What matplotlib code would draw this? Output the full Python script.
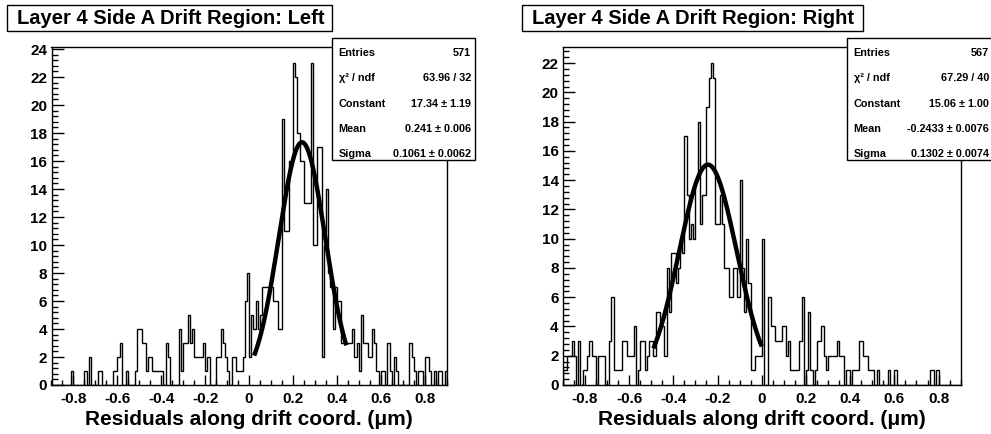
import numpy as np
import matplotlib
matplotlib.use("Agg")
import matplotlib.pyplot as plt
from matplotlib.patches import Rectangle
from matplotlib.ticker import MultipleLocator, AutoMinorLocator

plt.rcParams["font.family"] = ["Liberation Sans", "DejaVu Sans"]
plt.rcParams["font.weight"] = "bold"

# bins of 0.01 from -0.9 to 0.9
BIN_EDGES = np.linspace(-0.9, 0.9, 181)

left_counts = [
    0, 0, 0, 0, 0, 0, 0, 0, 0, 1,
    0, 0, 0, 0, 0, 1, 0, 2, 0, 0,
    0, 1, 1, 0, 0, 0, 0, 0, 1, 1,
    2, 3, 0, 0, 1, 0, 0, 0, 1, 4,
    4, 3, 3, 1, 2, 2, 1, 1, 1, 1,
    1, 0, 3, 2, 0, 0, 0, 0, 4, 1,
    3, 3, 5, 3, 4, 2, 2, 2, 2, 3,
    1, 2, 0, 0, 0, 2, 2, 4, 3, 2,
    1, 0, 2, 2, 1, 1, 1, 2, 6, 8,
    2, 5, 4, 6, 4, 5, 7, 7, 7, 7,
    7, 6, 6, 4, 4, 19, 11, 11, 16, 16,
    23, 22, 18, 16, 16, 13, 13, 13, 23, 10,
    10, 17, 17, 2, 10, 14, 8, 7, 4, 7,
    6, 6, 3, 3, 3, 3, 3, 4, 2, 3,
    1, 5, 3, 3, 2, 2, 4, 3, 1, 0,
    1, 1, 0, 3, 1, 0, 2, 1, 0, 0,
    0, 0, 0, 3, 2, 1, 0, 1, 1, 0,
    2, 2, 1, 0, 1, 0, 1, 1, 0, 1,
]

right_counts = [
    1, 1, 2, 2, 3, 2, 0, 3, 0, 1,
    1, 2, 3, 2, 2, 0, 2, 2, 2, 0,
    0, 3, 6, 1, 1, 1, 1, 3, 3, 2,
    2, 2, 4, 0, 1, 3, 3, 1, 2, 3,
    3, 2, 5, 5, 4, 4, 2, 8, 5, 9,
    9, 7, 8, 10, 9, 17, 13, 10, 11, 10,
    14, 18, 11, 13, 13, 19, 21, 22, 21, 11,
    11, 13, 11, 8, 8, 6, 6, 8, 8, 6,
    14, 8, 5, 10, 7, 1, 1, 2, 2, 2,
    10, 0, 0, 6, 4, 4, 3, 3, 3, 4,
    4, 2, 3, 1, 1, 1, 1, 3, 6, 0,
    1, 5, 1, 0, 1, 3, 3, 4, 2, 1,
    2, 2, 2, 2, 3, 2, 2, 0, 1, 1,
    0, 1, 1, 1, 3, 3, 2, 2, 1, 1,
    1, 0, 1, 0, 0, 0, 0, 1, 0, 0,
    1, 0, 0, 0, 0, 0, 0, 0, 0, 0,
    0, 0, 0, 0, 0, 0, 1, 1, 0, 1,
    0, 0, 0, 0, 0, 0, 0, 0, 0, 0,
]

# gaussian fit results (constant, mean, sigma) and fit range
left_fit = [17.34, 0.241, 0.1061]
left_fit_range = [0.023, 0.443]
right_fit = [15.06, -0.2433, 0.1302]
right_fit_range = [-0.49, 0.0]

stat_labels = ["Entries", "χ² / ndf", "Constant", "Mean", "Sigma"]
left_stats = ["571", "63.96 / 32", "17.34 ± 1.19", "0.241 ± 0.006", "0.1061 ± 0.0062"]
right_stats = ["567", "67.29 / 40", "15.06 ± 1.00", "-0.2433 ± 0.0076", "0.1302 ± 0.0074"]

titles = ["Layer 4 Side A Drift Region: Left", "Layer 4 Side A Drift Region: Right"]
xlabel = "Residuals along drift coord. (μm)"
x_ticks = [-0.8, -0.6, -0.4, -0.2, 0.0, 0.2, 0.4, 0.6, 0.8]
x_tick_labels = ["-0.8", "-0.6", "-0.4", "-0.2", "0", "0.2", "0.4", "0.6", "0.8"]

W, H = 991, 434
fig = plt.figure(figsize=(W / 100, H / 100), dpi=100)


def fx(px):
    return px / W


def fy(py):
    return 1 - py / H


def draw_panel(ax_px, counts, fit, fit_range, title, title_px, stats, stats_px):
    x0, x1, ytop, ybot = ax_px
    ax = fig.add_axes([fx(x0), fy(ybot), fx(x1 - x0), (ybot - ytop) / H])

    ax.stairs(counts, BIN_EDGES, color="black", linewidth=1.0, baseline=0)

    c, mu, sig = fit
    xf = np.linspace(fit_range[0], fit_range[1], 300)
    ax.plot(xf, c * np.exp(-0.5 * ((xf - mu) / sig) ** 2), color="black", linewidth=3.2,
            solid_capstyle="butt")

    ax.set_xlim(-0.9, 0.9)
    ax.set_ylim(0, 1.05 * max(counts))

    ax.set_xticks(x_ticks)
    ax.set_xticklabels(x_tick_labels)
    ax.xaxis.set_minor_locator(MultipleLocator(0.05))
    ax.yaxis.set_major_locator(MultipleLocator(2))
    ax.yaxis.set_minor_locator(AutoMinorLocator(5))
    ax.set_yticklabels([str(int(v)) for v in ax.get_yticks()])

    ax.tick_params(which="both", direction="in", top=False, right=False, width=1.0,
                   labelsize=11)
    ax.tick_params(axis="x", which="major", length=7, pad=5)
    ax.tick_params(axis="x", which="minor", length=3.5)
    ax.tick_params(axis="y", which="major", length=8.5, pad=3)
    ax.tick_params(axis="y", which="minor", length=4.3)
    for lab in ax.get_xticklabels() + ax.get_yticklabels():
        lab.set_fontweight("bold")
    for sp in ax.spines.values():
        sp.set_linewidth(1.0)

    ax.set_xlabel(xlabel, fontsize=15, fontweight="bold", labelpad=3)

    # title box
    tx0, tx1, ty0, ty1 = title_px
    fig.add_artist(Rectangle((fx(tx0), fy(ty1)), fx(tx1 - tx0), (ty1 - ty0) / H,
                             transform=fig.transFigure, facecolor="white",
                             edgecolor="black", linewidth=1.0, zorder=5))
    fig.text(fx(tx0 + 10), fy((ty0 + ty1) / 2), title, fontsize=14.5, fontweight="bold",
             ha="left", va="center", zorder=6)

    # stats box
    sx0, sx1, sy0, sy1 = stats_px
    fig.add_artist(Rectangle((fx(sx0), fy(sy1)), fx(sx1 - sx0), (sy1 - sy0) / H,
                             transform=fig.transFigure, facecolor="white",
                             edgecolor="black", linewidth=1.0, zorder=5))
    rows = [53, 78, 104, 129, 154]
    for lab, val, ry in zip(stat_labels, stats, rows):
        fig.text(fx(sx0 + 7), fy(ry), lab, fontsize=7.8, fontweight="bold",
                 ha="left", va="center", zorder=6)
        fig.text(fx(sx1 - 4), fy(ry), val, fontsize=7.8, fontweight="bold",
                 ha="right", va="center", zorder=6)
    return ax


draw_panel((51.5, 446.7, 47, 385), left_counts, left_fit, left_fit_range, titles[0],
           (7, 332, 5, 31), left_stats, (331.7, 475, 38.3, 160))
draw_panel((562.8, 960.7, 47, 385), right_counts, right_fit, right_fit_range, titles[1],
           (522, 863, 5, 31), right_stats, (846.7, 993, 38.3, 160))

fig.savefig("out.png", dpi=100)
